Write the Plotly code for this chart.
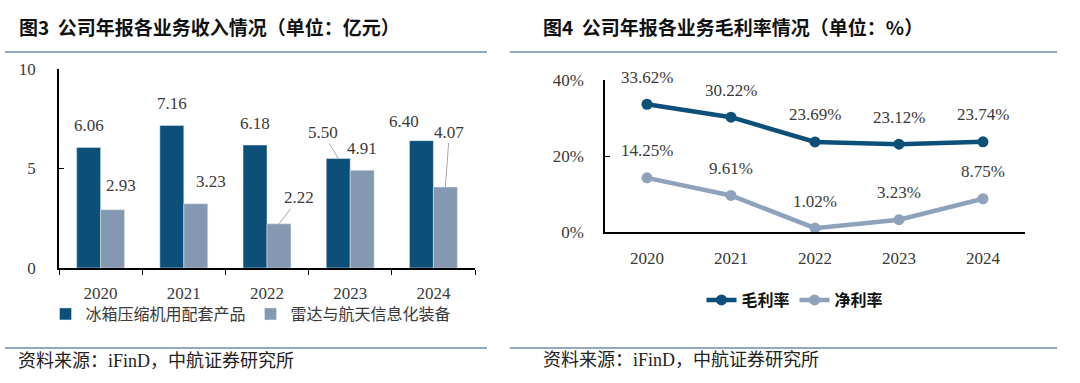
import plotly.graph_objects as go

# ---------------- data ----------------
years = ["2020", "2021", "2022", "2023", "2024"]
fridge_rev = [6.06, 7.16, 6.18, 5.50, 6.40]      # 冰箱压缩机用配套产品 (亿元)
radar_rev = [2.93, 3.23, 2.22, 4.91, 4.07]       # 雷达与航天信息化装备 (亿元)
gross_margin = [33.62, 30.22, 23.69, 23.12, 23.74]  # 毛利率 %
net_margin = [14.25, 9.61, 1.02, 3.23, 8.75]        # 净利率 %
bar_names = ["冰箱压缩机用配套产品", "雷达与航天信息化装备"]
line_names = ["毛利率", "净利率"]
left_yticks = [0, 5, 10]
right_yticks = [0, 20, 40]
right_yticktext = [f"{v}%" for v in right_yticks]
title_left = "图3  公司年报各业务收入情况（单位：亿元）"
title_right = "图4  公司年报各业务毛利率情况（单位：%）"
source_text = "资料来源：iFinD，中航证券研究所"

# ---------------- style ----------------
DARK = "#0c5079"
LIGHT = "#8498b1"
LINE_LIGHT = "#8ea2bb"
RULE = "#6f8cab"
TXT = "#3a3a3a"
NUM_FONT = "Liberation Serif, Noto Sans CJK SC, serif"
CJK_FONT = "Noto Sans CJK SC, Liberation Serif, sans-serif"
SRC_FONT = "Liberation Serif, Noto Sans CJK SC, serif"
W, H = 1080, 383

# label offsets (pixels: dx, dy-up) and leader-line flags for bar labels
fridge_off = [(0, 22), (0, 22), (0, 22), (-15, 26), (-17, 19)]
fridge_leader = [False, False, False, True, False]
radar_off = [(8, 24), (15, 22), (20, 26), (0, 22), (4, 55)]
radar_leader = [False, False, True, False, True]


def px(v):
    return v / W


def py(v):
    return 1 - v / H


fig = go.Figure()

fig.add_trace(go.Bar(x=years, y=fridge_rev, name=bar_names[0], marker_color=DARK,
                     xaxis="x", yaxis="y", legend="legend", hoverinfo="skip"))
fig.add_trace(go.Bar(x=years, y=radar_rev, name=bar_names[1], marker_color=LIGHT,
                     xaxis="x", yaxis="y", legend="legend", hoverinfo="skip"))

fig.add_trace(go.Scatter(x=years, y=gross_margin, name=line_names[0], mode="lines+markers",
                         line=dict(color=DARK, width=4.5), marker=dict(size=11, color=DARK),
                         xaxis="x2", yaxis="y2", legend="legend2", cliponaxis=False, hoverinfo="skip"))
fig.add_trace(go.Scatter(x=years, y=net_margin, name=line_names[1], mode="lines+markers",
                         line=dict(color=LINE_LIGHT, width=4.5), marker=dict(size=11, color=LINE_LIGHT),
                         xaxis="x2", yaxis="y2", legend="legend2", cliponaxis=False, hoverinfo="skip"))

annotations = []
for i, yr in enumerate(years):
    for vals, offs, leads, shift in ((fridge_rev, fridge_off, fridge_leader, -12),
                                     (radar_rev, radar_off, radar_leader, 12)):
        dx, dy = offs[i]
        annotations.append(dict(
            x=i, y=vals[i], xref="x", yref="y", text=f"{vals[i]:.2f}",
            showarrow=True, ax=dx, ay=-dy,
            xshift=shift, arrowhead=0, arrowwidth=1, standoff=0,
            arrowcolor="#a8a8a8" if leads[i] else "rgba(0,0,0,0)",
            font=dict(family=NUM_FONT, size=17, color=TXT)))
    for vals in (gross_margin, net_margin):
        annotations.append(dict(
            x=i, y=vals[i], xref="x2", yref="y2", text=f"{vals[i]:.2f}%",
            showarrow=False, yshift=27,
            font=dict(family=NUM_FONT, size=17, color=TXT)))

# titles and sources
annotations += [
    dict(x=px(17), y=py(26), xref="paper", yref="paper", xanchor="left", yanchor="middle",
         text=f"<b>{title_left}</b>", showarrow=False,
         font=dict(family=CJK_FONT, size=19, color="#111111")),
    dict(x=px(541), y=py(26), xref="paper", yref="paper", xanchor="left", yanchor="middle",
         text=f"<b>{title_right}</b>", showarrow=False,
         font=dict(family=CJK_FONT, size=19, color="#111111")),
    dict(x=px(16), y=py(361), xref="paper", yref="paper", xanchor="left", yanchor="middle",
         text=source_text, showarrow=False,
         font=dict(family=SRC_FONT, size=18, color="#222222")),
    dict(x=px(541), y=py(360), xref="paper", yref="paper", xanchor="left", yanchor="middle",
         text=source_text, showarrow=False,
         font=dict(family=SRC_FONT, size=18, color="#222222")),
]

shapes = []
for yy in (52, 348):
    for x0, x1 in ((5, 487), (510, 1057)):
        shapes.append(dict(type="line", xref="paper", yref="paper",
                           x0=px(x0), x1=px(x1), y0=py(yy), y1=py(yy),
                           line=dict(color=RULE, width=1.5)))

axis_font = dict(family=NUM_FONT, size=17, color=TXT)

fig.update_layout(
    width=W, height=H,
    margin=dict(l=0, r=0, t=0, b=0, pad=0, autoexpand=False),
    paper_bgcolor="white", plot_bgcolor="white",
    barmode="group", bargap=0.424, bargroupgap=0,
    showlegend=True,
    xaxis=dict(domain=[px(59), px(475)], type="category", range=[-0.5, 4.5],
               showline=True, linecolor="black", linewidth=1.5,
               ticks="outside", ticklen=5, tickcolor="black", tickson="boundaries",
               showgrid=False, zeroline=False, tickfont=axis_font, ticklabelstandoff=9,
               anchor="y", automargin=False),
    yaxis=dict(domain=[py(268), py(69)], range=[0, 10], tickmode="array", tickvals=left_yticks,
               showline=True, linecolor="black", linewidth=1.5,
               ticks="inside", ticklen=5, tickcolor="black",
               showgrid=False, zeroline=False, tickfont=axis_font, ticklabelstandoff=18,
               anchor="x", automargin=False),
    xaxis2=dict(domain=[px(605), px(1025)], type="category", range=[-0.5, 4.5],
                showline=True, linecolor="black", linewidth=1.5, ticks="",
                showgrid=False, zeroline=False, tickfont=axis_font, ticklabelstandoff=10,
                anchor="y2", automargin=False),
    yaxis2=dict(domain=[py(232), py(80)], range=[0, 40], tickmode="array",
                tickvals=right_yticks, ticktext=right_yticktext,
                showline=True, linecolor="black", linewidth=1.5,
                ticks="inside", ticklen=5, tickcolor="black",
                showgrid=False, zeroline=False, tickfont=axis_font, ticklabelstandoff=16,
                anchor="x2", automargin=False),
    legend=dict(orientation="h", x=px(251), y=py(314), xanchor="center", yanchor="middle",
                font=dict(family=CJK_FONT, size=16, color=TXT), bgcolor="rgba(0,0,0,0)",
                itemclick=False, itemdoubleclick=False),
    legend2=dict(orientation="h", x=px(795), y=py(300), xanchor="center", yanchor="middle",
                 font=dict(family=CJK_FONT, size=16, color="#111111", weight="bold"),
                 bgcolor="rgba(0,0,0,0)", itemclick=False, itemdoubleclick=False),
    annotations=annotations,
    shapes=shapes,
)

fig.write_html("out.html", config={"displayModeBar": False},
               post_script="document.body.style.margin='0px';document.body.style.overflow='hidden';")
